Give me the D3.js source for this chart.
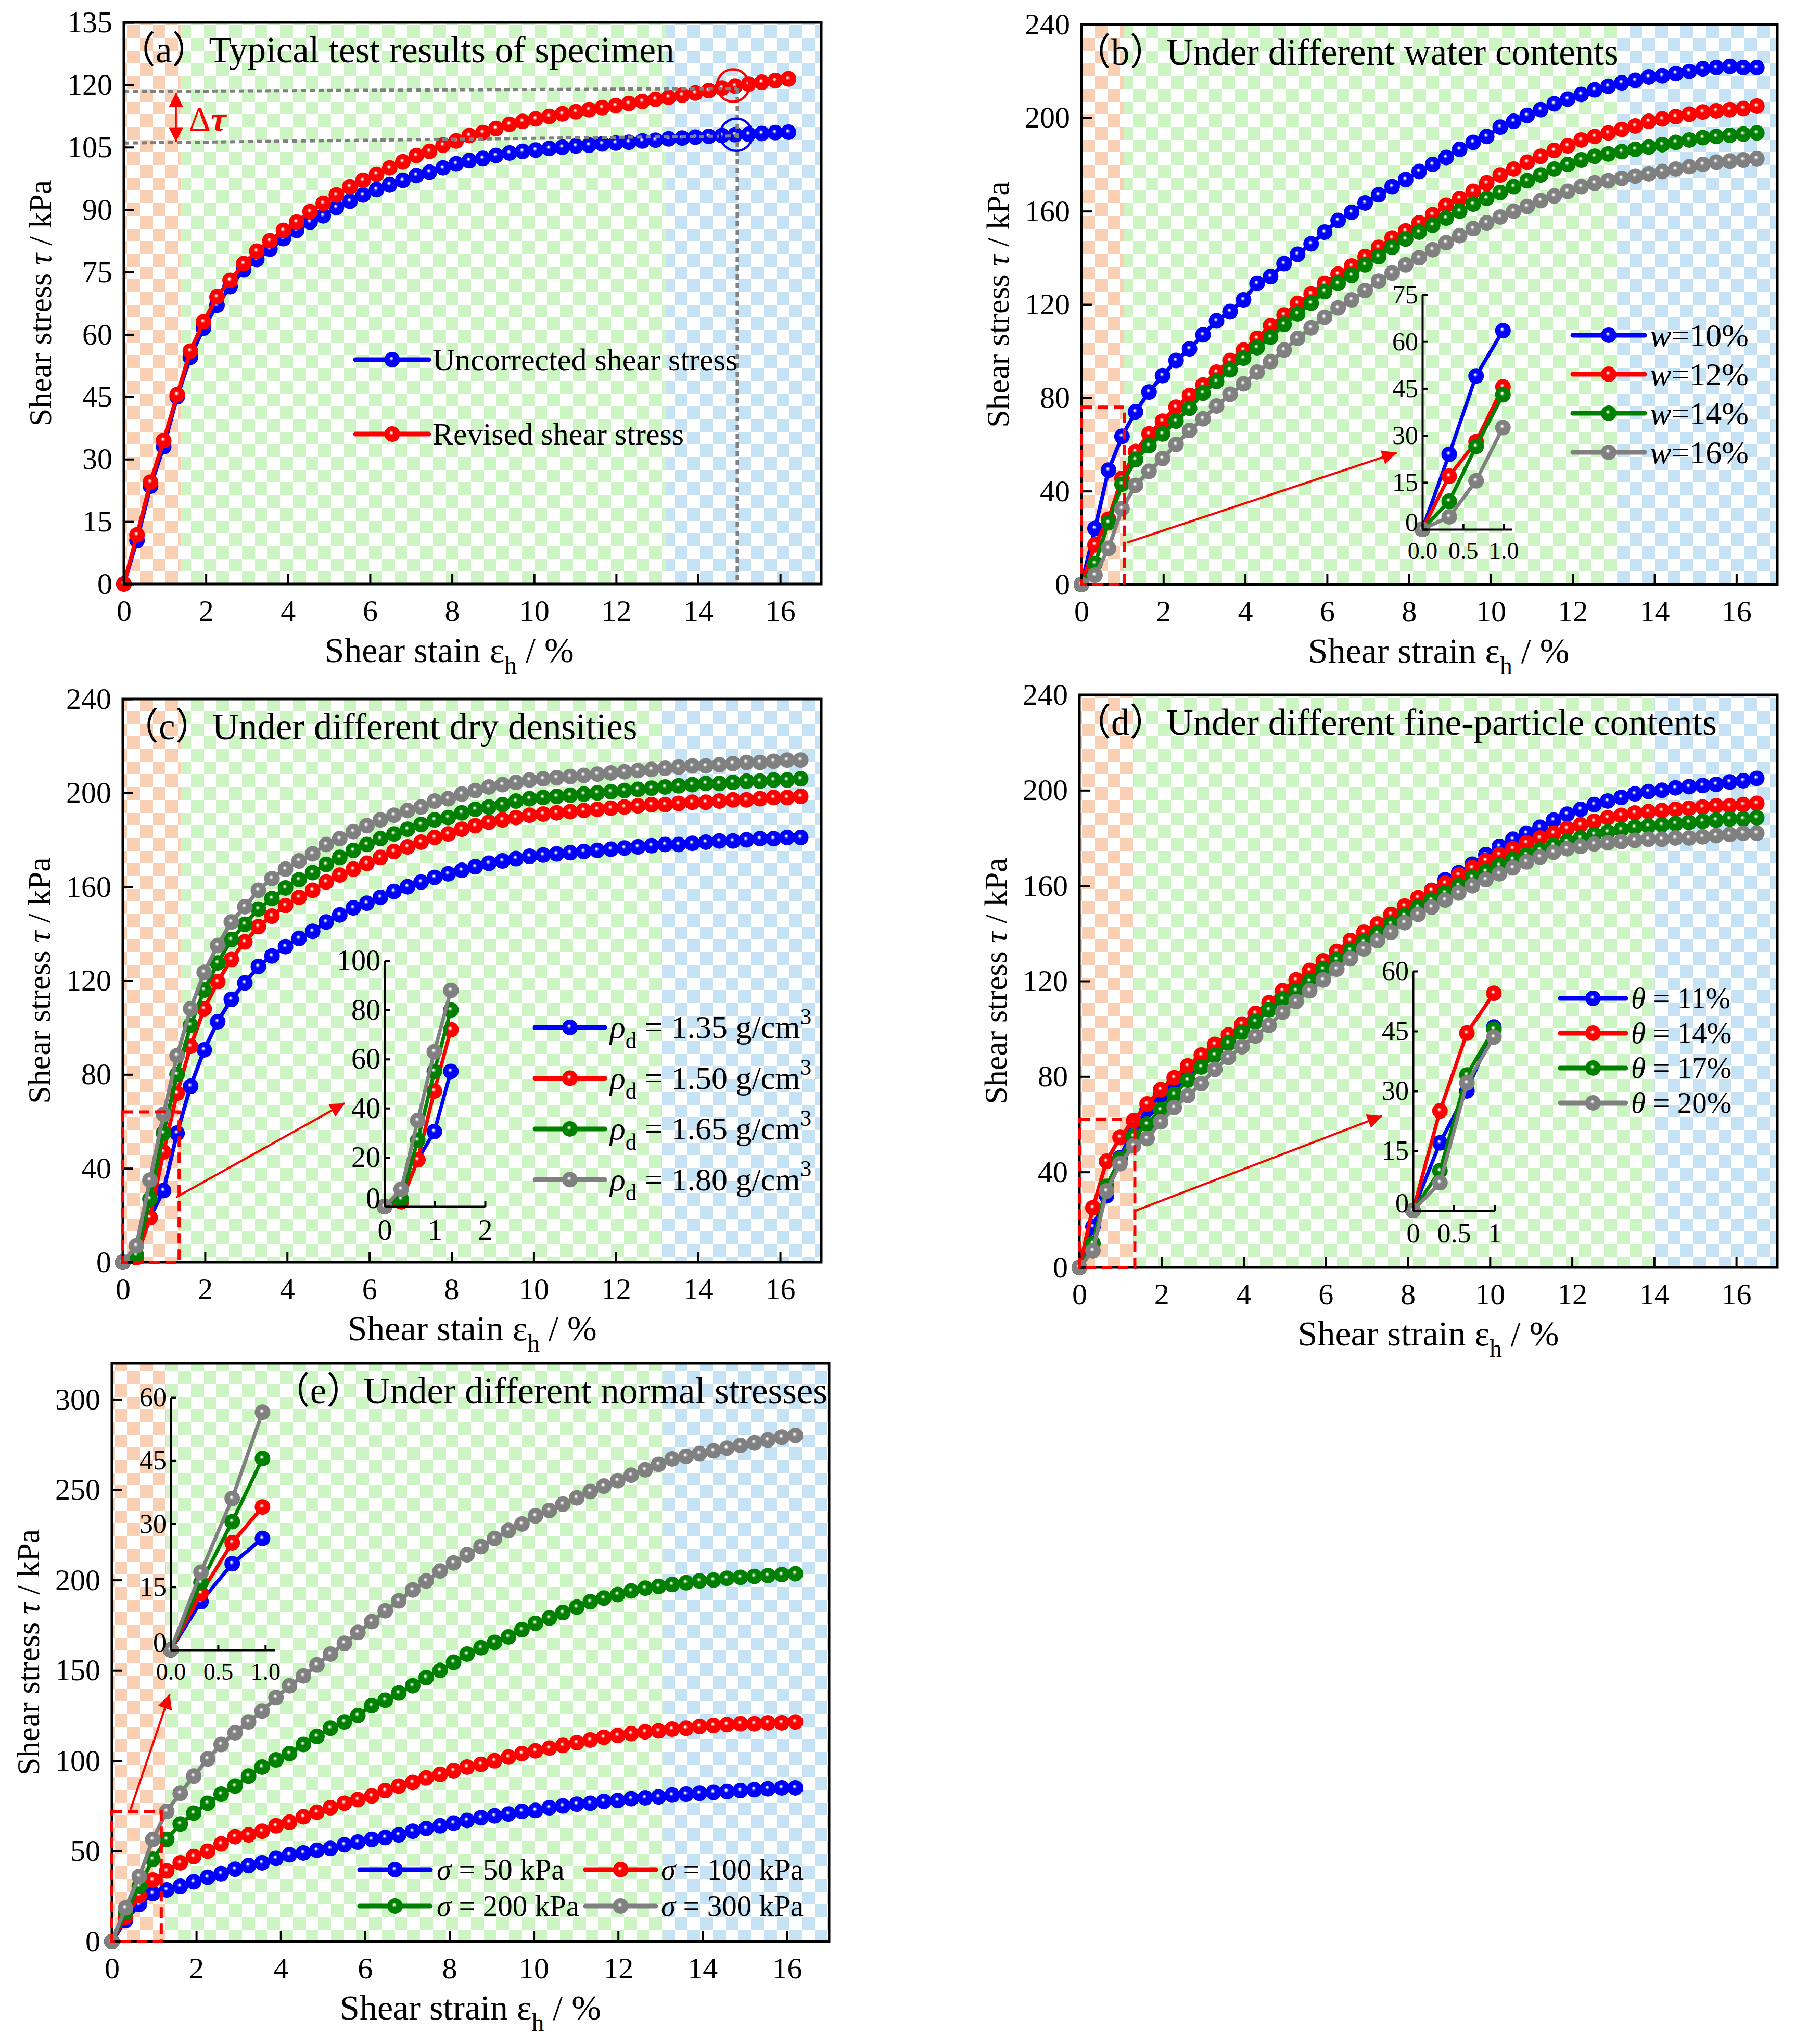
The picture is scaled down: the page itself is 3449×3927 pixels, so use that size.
<!DOCTYPE html>
<html>
<head>
<meta charset="utf-8">
<script src="https://cdn.jsdelivr.net/npm/d3@7"></script>
<style>
  body { margin: 0; background: #fff; }
  svg { display: block; }
</style>
</head>
<body>
<svg id="fig" width="3449" height="3927"></svg>
<script>
// strain values (%)
const strainA = [0,0.32,0.65,0.97,1.3,1.62,1.94,2.27,2.59,2.92,3.24,3.56,3.89,4.21,4.54,4.86,5.18,5.51,5.83,6.16,6.48,6.8,7.13,7.45,7.78,8.1,8.42,8.75,9.07,9.4,9.72,10.04,10.37,10.69,11.02,11.34,11.66,11.99,12.31,12.64,12.96,13.28,13.61,13.93,14.26,14.58,14.9,15.23,15.55,15.88,16.2];
const strainB = [0,0.33,0.66,0.99,1.32,1.65,1.98,2.31,2.64,2.97,3.3,3.63,3.96,4.29,4.62,4.95,5.28,5.61,5.94,6.27,6.6,6.93,7.26,7.59,7.92,8.25,8.58,8.91,9.24,9.57,9.9,10.23,10.56,10.89,11.22,11.55,11.88,12.21,12.54,12.87,13.2,13.53,13.86,14.19,14.52,14.85,15.18,15.51,15.84,16.17,16.5];

// (a) typical specimen
const aUncorrected = [0,10.5,23.5,33,45,54.5,61.5,67,71.5,75.5,78,80.5,83,85,87,88.5,90.5,92,93.5,94.8,96,97,98.2,99,100,101,101.8,102.3,103,103.6,104,104.3,104.7,105,105.3,105.5,105.8,106,106.2,106.5,106.7,107,107.2,107.4,107.6,107.8,108,108.1,108.3,108.5,108.6];
const aRevised = [0,11.8,24.5,34.5,45.5,56,63,69,73,77,80,82.5,85,87,89.5,91.5,93.5,95.5,97,98.5,100,101.5,103,104,105.5,106.5,107.8,108.5,109.5,110.5,111.2,111.8,112.4,113,113.5,114,114.5,115,115.5,116,116.5,117,117.5,118,118.6,119.2,119.7,120.2,120.6,121,121.4];

// (b) water content
const bW10 = [0,24,49,63.5,74,82.5,89.5,96,101,107,113,117,122,129,132,137.5,141.5,146,151,156,159.5,163.5,167,170.5,173.5,177,180,183,186.5,189.5,192,196,198.5,201,203.5,206,208,210,212,213.5,215,216,217.5,218,219,220,221,221.5,222,221.5,221.5];
const bW12 = [0,17,28,45.5,57,64.5,70,76,81,85.5,91,96,100.5,105.5,111,115.5,120.5,124.5,129,133,136.5,140.5,144.5,148.5,151.5,155,158.5,162.5,165.5,168.5,172,175.5,178,181,183.5,186,188,190.5,192,193.5,195,196.5,198.5,199.5,200.5,201.5,202.5,203,203.5,204,205];
const bW14 = [0,9,26.5,43,53.5,59.5,64.5,70,75.5,82,87,92,97,101.5,106,111.5,116,120.5,125.5,129,132.5,137,140.5,144.5,148,151,154,157,160,163,165.5,168,170.5,173,175.5,178,180,182,183.5,184.5,185.5,186.5,187.5,188.5,189.5,190.5,191.5,192,192.5,193,193.5];
const bW16 = [0,4,15.5,32.5,42.5,48.5,54,60,66,71,76.5,81.5,86,91,95.5,100.5,105.5,110,114.5,118.5,122,126,130,133.5,137,140,143.5,146.5,149.5,152.5,155,157.5,160,162,164.5,166.5,168.5,170.5,172,173,174,175,176,177,178,179,180,181,181.5,182,182.5];

// (c) dry density
const cRho135 = [0,2,19,30.5,55,75,90.5,102.5,112,119,126,130.5,134.5,138,141,145,148,151,153,155.5,158,160,162,164,165.5,167,168.5,170,171,172,173,173.5,174,174.5,175,175.5,176,176.5,177,177.5,178,178,178.5,179,179.5,179.5,180,180.5,180.5,181,181];
const cRho150 = [0,2,19,47,72,92,108,119.5,129,136.5,143,147.5,152,155.5,158.5,162,165,167.5,170,172.5,175,177,179,181,182.5,184.5,186,187.5,188.5,189.5,190.5,191,191.5,192,192.5,193,193.5,194,194.5,195,195,195.5,196,196,196.5,197,197,197.5,198,198,198.5];
const cRho165 = [0,3,27,55,80,101,116,127.5,137.5,144,150.5,155,159.5,163,166,169.5,172.5,175.5,178,180.5,182.5,184.5,186.5,188.5,189.5,191.5,193,194,195,196.5,197.5,198,198.5,199,199.5,200,200.5,201,201.5,202,202.5,203,203.5,204,204,204.5,205,205,205.5,205.5,206];
const cRho180 = [0,7,35,63,88,108,123.5,135,145,151.5,158.5,163.5,167.5,171,174,178,180.5,183.5,186,188.5,190.5,192.5,194,196.5,197.5,199.5,201,202.5,203.5,204.5,205.5,206,206.5,207,207.5,208,208.5,209,209.5,210,210.5,211,211.5,211.5,212,212.5,213,213,213.5,214,214];

// (d) fine-particle content
const dTheta11 = [0,17,30,46,58,66,72,77.5,82,87,91,95,100,104.5,109,113.5,118,122,126,130,134,138,142,145.5,149.5,153,158,162.5,165.5,169,173,176.5,179.5,182,184.5,187.5,190,192,194,195.5,197,198.5,199.5,200,201,201.5,202,202.5,203.5,204,205];
const dTheta14 = [0,25,44.5,54.5,61.5,68.5,74.5,79.5,84.5,89,93.5,97.5,102,106.5,111,116,120.5,124.5,128.5,132.5,137,140.5,144,148,151.5,155,158,161,164.5,167.5,170.5,173,175.5,178,180,182,184,185.5,187,188.5,189.5,190.5,191,191.5,192,192.5,193,193.5,193.5,194,194.5];
const dTheta17 = [0,10,34,45.5,55,60,66,72.5,78.5,84,89,94,98.5,103,108,112.5,116,120,125,129,133,136.5,140,144,147.5,151,154,157,160,163.5,166,168.5,171,173,175,177,178.5,180,181.5,182.5,183.5,184.5,185,185.5,186,186.5,187,187.5,188,188,188.5];
const dTheta20 = [0,7,32,43.5,51,54,61,67,72,77,83,88,92.5,97,101.5,107,111.5,116,120.5,125,129.5,133.5,137,140.5,144.5,148,151,154,157,160,162.5,165,167.5,170,172,174,175.5,176.5,177.5,178,178.5,179,179.5,179.5,180,180,180.5,181,181.5,182,182];

// (e) normal stress
const eSigma50 = [0,11.5,20.5,26.5,28.5,30.5,33,35.5,37.5,40,42,43.5,46,48,49,50.5,51.5,53.5,55,56.5,57.5,59,61,62.5,64,65.5,67,68.5,69.5,70.5,72,72.5,74,75,76,76.5,77.5,78,79,79.5,80,81,81.5,82,82.5,83,83.5,84,84.5,85,85];
const eSigma100 = [0,13.5,25.5,34,39,43.5,47,50,54,58,59,61,64,66,69,71.5,74,76.5,78.5,80.5,83.5,86,88,90.5,92.5,94.5,96.5,98,100,102,104,105.5,107,108.5,110,111.5,113,114,115,116,116.5,117.5,118,119,119.5,120,120.5,120.5,121,121,121.5];
const eSigma200 = [0,16,30.5,45.5,56.5,65,71,76.5,81.5,86,91.5,96.5,100.5,104,109,113.5,118,121.5,125,130.5,133.5,137.5,141.5,146,150,154.5,159,162.5,165.5,168.5,172.5,176,179,182,185,188,190,192,194,195.5,196.5,197.5,198.5,199.5,200,201,201.5,202,202.5,203,203.5];
const eSigma300 = [0,18.5,36,56.5,72,82,91.5,101,109,115.5,121.5,127.5,135,141.5,147,153,159,165,171,177,183,188.5,194.5,199.5,205,209.5,214,218.5,223,227.5,231,235.5,238.5,242,245.5,249,252,255,258,261,264,267,268.5,270,271.5,273,274.5,276,277.5,279,280];

// tick labels
const xTicks = [0,2,4,6,8,10,12,14,16];
const yTicksA = [0,15,30,45,60,75,90,105,120,135];
const yTicks240 = [0,40,80,120,160,200,240];
const yTicksE = [0,50,100,150,200,250,300];
const insetTicksB = { x: [0,0.5,1], y: [0,15,30,45,60,75] };
const insetTicksC = { x: [0,1,2], y: [0,20,40,60,80,100] };
const insetTicksD = { x: [0,0.5,1], y: [0,15,30,45,60] };
const insetTicksE = { x: [0,0.5,1], y: [0,15,30,45,60] };

// legend labels
const legendA = ['Uncorrected shear stress', 'Revised shear stress'];
const legendB = ['10%', '12%', '14%', '16%'];
const legendC = ['1.35', '1.50', '1.65', '1.80'];
const legendD = ['11%', '14%', '17%', '20%'];
const legendE = ['50 kPa', '100 kPa', '200 kPa', '300 kPa'];

// (a) reading guides
const guideLinesA = [[[0,118.4],[14.95,119.1]], [[0,106.0],[14.95,107.7]], [[14.95,119.1],[14.95,0]]];
const guideCirclesA = [{x: 14.85, y: 119.8, color: 'red'}, {x: 14.93, y: 108, color: 'blue'}];

const palette = { blue: '#0000ff', red: '#ff0000', green: '#008000', gray: '#808080' };
const zoneFill = { orange: '#f9d0b3', green: '#cdf5c3', blue: '#c6e3f6' };
const FONT = "'Liberation Serif','Times New Roman','Noto Sans CJK SC',serif";

const svg = d3.select('#fig');
svg.append('rect').attr('width', 3449).attr('height', 3927).attr('fill', '#fff');
const defs = svg.append('defs');

// shaded ball markers: solid colour with a small glint
Object.entries(palette).forEach(([k, c]) => {
  const grad = defs.append('radialGradient').attr('id', 'ball-' + k)
      .attr('cx', '50%').attr('cy', '50%').attr('r', '50%').attr('fx', '44%').attr('fy', '40%');
  grad.append('stop').attr('offset', '0%').attr('stop-color', '#fff');
  grad.append('stop').attr('offset', '7%').attr('stop-color', '#fff');
  grad.append('stop').attr('offset', '18%').attr('stop-color', d3.interpolateRgb(c, '#fff')(0.45));
  grad.append('stop').attr('offset', '30%').attr('stop-color', c);
  grad.append('stop').attr('offset', '100%').attr('stop-color', c);
});

// dithered zone fills, like the original raster
Object.entries(zoneFill).forEach(([k, c]) => {
  const p = defs.append('pattern').attr('id', 'zone-' + k)
      .attr('width', 2).attr('height', 2).attr('patternUnits', 'userSpaceOnUse');
  p.append('rect').attr('width', 2).attr('height', 2).attr('fill', '#fff');
  p.append('rect').attr('width', 1).attr('height', 1).attr('fill', c);
  p.append('rect').attr('x', 1).attr('y', 1).attr('width', 1).attr('height', 1).attr('fill', c);
});

defs.append('marker').attr('id', 'arrow')
    .attr('viewBox', '0 0 10 10').attr('refX', 10).attr('refY', 5)
    .attr('markerWidth', 36).attr('markerHeight', 28)
    .attr('markerUnits', 'userSpaceOnUse').attr('orient', 'auto-start-reverse')
  .append('path').attr('d', 'M0,0 L10,5 L0,10 z').attr('fill', '#ff0000');

// text with italic / sub / sup pieces
function rich(g, x, y, parts, size, opts = {}) {
  const t = g.append('text').attr('x', x).attr('y', y)
      .attr('font-family', FONT).attr('font-size', size)
      .attr('text-anchor', opts.anchor || 'start').attr('fill', opts.fill || '#000');
  if (opts.rotate) t.attr('transform', `rotate(${opts.rotate},${x},${y})`);
  let shift = 0;
  parts.forEach(p => {
    const s = typeof p === 'string' ? { t: p } : p;
    const target = s.sub ? size * 0.32 : s.sup ? -size * 0.42 : 0;
    const ts = t.append('tspan').text(s.t);
    if (target - shift !== 0) ts.attr('dy', target - shift);
    shift = target;
    if (s.sub || s.sup) ts.attr('font-size', size * 0.7);
    if (s.i) ts.attr('font-style', 'italic');
    if (s.b) ts.attr('font-weight', 'bold');
  });
  return t;
}

function styleAxis(sel, size, keepDomain) {
  sel.attr('font-family', FONT).attr('font-size', size);
  if (keepDomain) sel.select('.domain').attr('stroke', '#000').attr('stroke-width', 4);
  else sel.select('.domain').remove();
  sel.selectAll('.tick line').attr('stroke', '#000').attr('stroke-width', 4);
  sel.selectAll('.tick text').attr('fill', '#000');
}

function drawSeries(g, x, y, xs, values, color, lw, r) {
  const pts = values.map((v, i) => [xs[i], v]);
  g.append('path')
      .attr('d', d3.line().x(d => x(d[0])).y(d => y(d[1]))(pts))
      .attr('fill', 'none').attr('stroke', palette[color])
      .attr('stroke-width', lw).attr('stroke-linejoin', 'round');
  g.append('g').selectAll('circle').data(pts).join('circle')
      .attr('cx', d => x(d[0])).attr('cy', d => y(d[1])).attr('r', r)
      .attr('fill', `url(#ball-${color})`);
}

function legendKey(g, x0, x1, yy, color) {
  g.append('line').attr('x1', x0).attr('x2', x1).attr('y1', yy).attr('y2', yy)
      .attr('stroke', palette[color]).attr('stroke-width', 9).attr('stroke-linecap', 'round');
  g.append('circle').attr('cx', (x0 + x1) / 2).attr('cy', yy).attr('r', 15)
      .attr('fill', `url(#ball-${color})`);
}

function drawInset(g, p, ins) {
  const x = d3.scaleLinear().domain(ins.xDomain).range([ins.left, ins.right]);
  const y = d3.scaleLinear().domain(ins.yDomain).range([ins.bottom, ins.top]);
  p.series.forEach(s => drawSeries(g, x, y, p.strain.slice(0, ins.n), s.values.slice(0, ins.n), s.color, 7, 15));
  g.append('g').attr('transform', `translate(0,${ins.bottom})`)
      .call(d3.axisBottom(x).tickValues(ins.ticks.x).tickFormat(ins.fmt)
        .tickSize(-10).tickSizeOuter(0).tickPadding(24))
      .call(styleAxis, ins.xFont || ins.font, true);
  g.append('g').attr('transform', `translate(${ins.left},0)`)
      .call(d3.axisLeft(y).tickValues(ins.ticks.y).tickFormat(d3.format('d'))
        .tickSize(-10).tickSizeOuter(0).tickPadding(8))
      .call(styleAxis, ins.font, true)
    // the corner "0" sits a touch higher so it clears the x labels
    .selectAll('.tick text').filter(d => d === 0).attr('dy', '0.05em');
}

function drawPanel(p) {
  const g = svg.append('g');
  const x = d3.scaleLinear().domain([0, 17]).range([p.left, p.right]);
  const y = d3.scaleLinear().domain([0, p.yMax]).range([p.bottom, p.top]);

  const zones = [[0, p.zones[0], 'orange'], [p.zones[0], p.zones[1], 'green'], [p.zones[1], 17, 'blue']];
  g.append('g').selectAll('rect').data(zones).join('rect')
      .attr('x', d => x(d[0])).attr('y', p.top)
      .attr('width', d => x(d[1]) - x(d[0])).attr('height', p.bottom - p.top)
      .attr('fill', d => `url(#zone-${d[2]})`);

  p.series.forEach(s => drawSeries(g, x, y, p.strain, s.values, s.color, 7.5, 15));

  if (p.extra) p.extra(g, x, y);

  if (p.arrow) {
    g.append('line')
        .attr('x1', x(p.arrow[0][0])).attr('y1', y(p.arrow[0][1]))
        .attr('x2', x(p.arrow[1][0])).attr('y2', y(p.arrow[1][1]))
        .attr('stroke', '#ff0000').attr('stroke-width', 4).attr('marker-end', 'url(#arrow)');
  }
  if (p.inset) drawInset(g, p, p.inset);

  g.append('g').attr('transform', `translate(0,${p.bottom})`)
      .call(d3.axisBottom(x).tickValues(xTicks).tickFormat(d3.format('d'))
        .tickSize(-20).tickSizeOuter(0).tickPadding(30))
      .call(styleAxis, 58);
  g.append('g').attr('transform', `translate(${p.left},0)`)
      .call(d3.axisLeft(y).tickValues(p.yTicks).tickFormat(d3.format('d'))
        .tickSize(-20).tickSizeOuter(0).tickPadding(22))
      .call(styleAxis, 58);

  g.append('rect').attr('x', p.left).attr('y', p.top)
      .attr('width', p.right - p.left).attr('height', p.bottom - p.top)
      .attr('fill', 'none').attr('stroke', '#000').attr('stroke-width', 5);

  // zoom box sits over the frame, as in the original
  if (p.box) {
    g.append('rect')
        .attr('x', x(0)).attr('y', y(p.box[1]))
        .attr('width', x(p.box[0]) - x(0)).attr('height', y(0) - y(p.box[1]))
        .attr('fill', 'none').attr('stroke', '#ff0000')
        .attr('stroke-width', 6).attr('stroke-dasharray', '20,11');
  }

  // titles
  rich(g, p.titleX, p.top + 77, [p.title], 71, { anchor: p.titleAnchor || 'start' });
  rich(g, (p.left + p.right) / 2 + (p.xTitleDx || 0), p.bottom + 150,
      [p.xWord, 'ε', { t: 'h', sub: true }, ' / %'], 68, { anchor: 'middle' });
  rich(g, p.left - 140, (p.top + p.bottom) / 2,
      ['Shear stress ', { t: 'τ', i: true }, ' / kPa'], 62, { anchor: 'middle', rotate: -90 });

  if (p.legend) p.legend(g);
}

// (a)
drawPanel({
  left: 238, right: 1578, top: 43, bottom: 1122, yMax: 135, yTicks: yTicksA,
  zones: [1.4, 13.2], strain: strainA,
  series: [{ values: aUncorrected, color: 'blue' }, { values: aRevised, color: 'red' }],
  title: '（a）Typical test results of specimen', titleX: 228,
  xWord: 'Shear stain ', xTitleDx: -45,
  extra: (g, x, y) => {
    guideLinesA.forEach(l => g.append('line')
        .attr('x1', x(l[0][0])).attr('y1', y(l[0][1])).attr('x2', x(l[1][0])).attr('y2', y(l[1][1]))
        .attr('stroke', '#808080').attr('stroke-width', 6).attr('stroke-dasharray', '10,7'));
    guideCirclesA.forEach(c => g.append('circle')
        .attr('cx', x(c.x)).attr('cy', y(c.y)).attr('r', 31)
        .attr('fill', 'none').attr('stroke', palette[c.color]).attr('stroke-width', 4.5));
    g.append('line').attr('x1', x(1.27)).attr('x2', x(1.27)).attr('y1', y(118.1)).attr('y2', y(106.3))
        .attr('stroke', '#ff0000').attr('stroke-width', 3.5)
        .attr('marker-start', 'url(#arrow)').attr('marker-end', 'url(#arrow)');
    rich(g, x(1.58), y(109.0), ['Δ', { t: 'τ', i: true, b: true }], 66, { fill: '#ff0000' });
  },
  legend: g => {
    [['blue', 691], ['red', 834]].forEach(([c, yy], i) => {
      legendKey(g, 683, 824, yy, c);
      rich(g, 831, yy + 20, [legendA[i]], 60);
    });
  }
});

// (b)
drawPanel({
  left: 2078, right: 3415, top: 47, bottom: 1123, yMax: 240, yTicks: yTicks240,
  zones: [1.03, 13.1], strain: strainB,
  series: [{ values: bW10, color: 'blue' }, { values: bW12, color: 'red' },
           { values: bW14, color: 'green' }, { values: bW16, color: 'gray' }],
  title: '（b）Under different water contents', titleX: 2064,
  xWord: 'Shear strain ', xTitleDx: 18,
  box: [1.05, 76], arrow: [[1.12, 18], [7.7, 56.5]],
  inset: { left: 2733, right: 2905, top: 566, bottom: 1017, xDomain: [0, 1.1], yDomain: [0, 75],
           ticks: insetTicksB, fmt: d3.format('.1f'), n: 4, font: 50, xFont: 46 },
  legend: g => {
    ['blue', 'red', 'green', 'gray'].forEach((c, i) => {
      const yy = 644 + i * 75;
      legendKey(g, 3022, 3160, yy, c);
      rich(g, 3170, yy + 21, [{ t: 'w', i: true }, '=' + legendB[i]], 62);
    });
  }
});

// (c)
drawPanel({
  left: 236, right: 1578, top: 1343, bottom: 2425, yMax: 240, yTicks: yTicks240,
  zones: [1.42, 13.1], strain: strainB,
  series: [{ values: cRho135, color: 'blue' }, { values: cRho150, color: 'red' },
           { values: cRho165, color: 'green' }, { values: cRho180, color: 'gray' }],
  title: '（c）Under different dry densities', titleX: 234,
  xWord: 'Shear stain ',
  box: [1.37, 64], arrow: [[1.3, 27.7], [5.4, 67.7]],
  inset: { left: 739, right: 932, top: 1846, bottom: 2318, xDomain: [0, 2], yDomain: [0, 100],
           ticks: insetTicksC, fmt: d3.format('d'), n: 5, font: 56 },
  legend: g => {
    ['blue', 'red', 'green', 'gray'].forEach((c, i) => {
      const yy = 1974 + i * 97.5;
      legendKey(g, 1028, 1162, yy, c);
      rich(g, 1172, yy + 20, [{ t: 'ρ', i: true }, { t: 'd', sub: true },
        ' = ' + legendC[i] + ' g/cm', { t: '3', sup: true }], 62);
    });
  }
});

// (d)
drawPanel({
  left: 2074, right: 3415, top: 1335, bottom: 2435, yMax: 240, yTicks: yTicks240,
  zones: [1.33, 14.0], strain: strainB,
  series: [{ values: dTheta11, color: 'blue' }, { values: dTheta14, color: 'red' },
           { values: dTheta17, color: 'green' }, { values: dTheta20, color: 'gray' }],
  title: '（d）Under different fine-particle contents', titleX: 2064,
  xWord: 'Shear strain ',
  box: [1.35, 62], arrow: [[1.34, 23.6], [7.37, 63.5]],
  inset: { left: 2715, right: 2872, top: 1866, bottom: 2326, xDomain: [0, 1], yDomain: [0, 60],
           ticks: insetTicksD, fmt: d3.format('~g'), n: 4, font: 52 },
  legend: g => {
    ['blue', 'red', 'green', 'gray'].forEach((c, i) => {
      const yy = 1918 + i * 67;
      legendKey(g, 2998, 3124, yy, c);
      rich(g, 3134, yy + 19, [{ t: 'θ', i: true }, ' = ' + legendD[i]], 57);
    });
  }
});

// (e)
drawPanel({
  left: 215, right: 1593, top: 2619, bottom: 3730, yMax: 320, yTicks: yTicksE,
  zones: [1.29, 13.06], strain: strainA,
  series: [{ values: eSigma50, color: 'blue' }, { values: eSigma100, color: 'red' },
           { values: eSigma200, color: 'green' }, { values: eSigma300, color: 'gray' }],
  title: '（e）Under different normal stresses', titleX: 1590, titleAnchor: 'end',
  xWord: 'Shear strain ',
  box: [1.17, 72], arrow: [[0.44, 72.9], [1.37, 136.8]],
  inset: { left: 328, right: 528, top: 2685, bottom: 3170, xDomain: [0, 1.1], yDomain: [0, 60],
           ticks: insetTicksE, fmt: d3.format('.1f'), n: 4, font: 52, xFont: 46 },
  legend: g => {
    const spots = [[691, 827, 839, 3592], [1125, 1260, 1270, 3592], [691, 827, 839, 3662], [1125, 1260, 1270, 3662]];
    ['blue', 'red', 'green', 'gray'].forEach((c, i) => {
      const [l0, l1, tx, yy] = spots[i];
      legendKey(g, l0, l1, yy, c);
      rich(g, tx, yy + 19, [{ t: 'σ', i: true }, ' = ' + legendE[i]], 57);
    });
  }
});
</script>
</body>
</html>
